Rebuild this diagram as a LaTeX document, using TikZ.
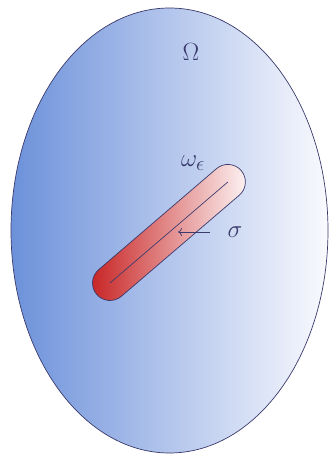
\documentclass[tikz,border=0pt]{standalone}
\usetikzlibrary{arrows.meta, positioning}

\definecolor{rim}{RGB}{58,58,108}
\definecolor{domleft}{RGB}{108,145,218}
\definecolor{domright}{RGB}{250,250,254}
\definecolor{tubered}{RGB}{200,36,36}
\definecolor{tubewhite}{RGB}{253,243,243}

\begin{document}
\begin{tikzpicture}[x=1pt, y=1pt,
  lbl/.style={text=rim, font=\fontsize{28}{30}\selectfont},
  rimline/.style={draw=rim, line width=0.7pt}]
\useasboundingbox (0,0) rectangle (329,455);

% Domain Omega
\draw[rimline, left color=domleft, right color=domright]
  (169.5,224.5) ellipse [x radius=158.5, y radius=222.5];
\node[lbl] (omega) at (191,403) {$\Omega$};

% Tube omega_eps around sigma
\begin{scope}[shift={(110,172)}, rotate=40.6]
\draw[rimline, left color=tubered, right color=tubewhite]
  (0,-17.5) -- (155.3,-17.5) arc (-90:90:17.5) -- (0,17.5) arc (90:270:17.5) -- cycle;
\coordinate (sa) at (0,0);
\coordinate (sb) at (155.3,0);
\end{scope}
\draw[rimline] (sa) -- (sb);

\node[lbl] (weps) at (193,292) {$\omega_\epsilon$};
\node[lbl] (sigma) at (235,223) {$\sigma$};
\coordinate (arrfrom) at (210,223);
\coordinate (arrto) at (178,223);
\draw[rimline, -{To[length=4pt, width=8pt]}] (arrfrom) -- (arrto);
\end{tikzpicture}
\end{document}
